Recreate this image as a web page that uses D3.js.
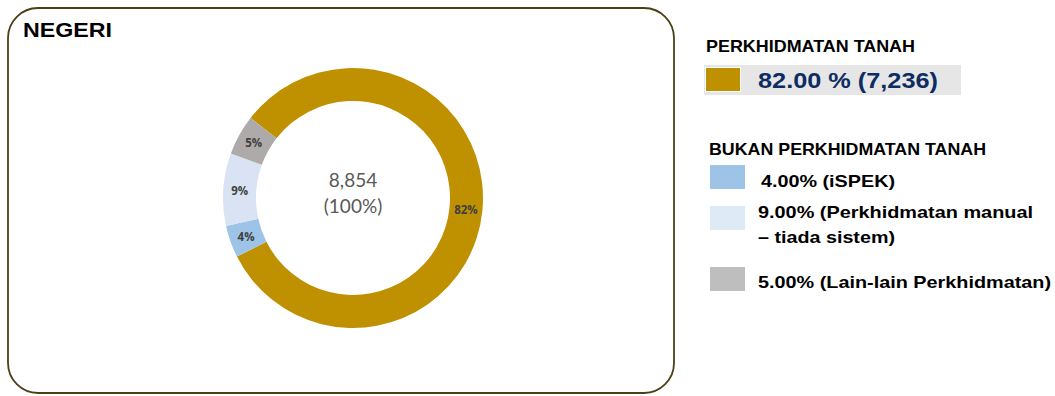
<!DOCTYPE html>
<html><head><meta charset="utf-8">
<script src="https://cdn.jsdelivr.net/npm/d3@7"></script>
<style>body{margin:0;background:#fff}svg{display:block}</style>
</head><body>
<svg id="c" width="1055" height="396"></svg>
<script>
const categories = ["Perkhidmatan Tanah", "iSPEK", "Perkhidmatan manual – tiada sistem", "Lain-lain Perkhidmatan"];
const values = [82, 4, 9, 5];
const sliceLabels = ["82%", "4%", "9%", "5%"];
const colors = ["#bf9000", "#9dc3e6", "#dae3f3", "#aeaaaa"];
const legendColors = ["#bf9000", "#9dc3e6", "#deeaf6", "#bebebe"];
const totalLabel = ["8,854", "(100%)"];
const legendTitle1 = "PERKHIDMATAN TANAH";
const legendMain = "82.00 % (7,236)";
const legendTitle2 = "BUKAN PERKHIDMATAN TANAH";
const legendItems = [["4.00% (iSPEK)"], ["9.00% (Perkhidmatan manual", "– tiada sistem)"], ["5.00% (Lain-lain Perkhidmatan)"]];

const svg = d3.select("#c");
const lf = "Liberation Sans, Arial, sans-serif";
function stretchText(x, y, t, size, width, fill) {
  return svg.append("text").attr("x", x).attr("y", y).text(t)
    .attr("font-family", lf).attr("font-weight", "bold").attr("font-size", size)
    .attr("fill", fill).attr("textLength", width).attr("lengthAdjust", "spacingAndGlyphs");
}

svg.append("rect").attr("x", 8).attr("y", 8).attr("width", 666).attr("height", 385)
  .attr("rx", 30).attr("ry", 30).attr("fill", "#fff").attr("stroke", "#4d3f14").attr("stroke-width", 1.8);
stretchText(23, 37, "NEGERI", 21, 89, "#000");

const cx = 353, cy = 198, rOut = 130, rIn = 97;
const pie = d3.pie().sort(null).value(d => d)
  .startAngle(-52 * Math.PI / 180).endAngle((360 - 52) * Math.PI / 180);
const arcs = pie(values);
const arc = d3.arc().innerRadius(rIn).outerRadius(rOut);
const g = svg.append("g").attr("transform", `translate(${cx},${cy})`);
g.selectAll("path").data(arcs).join("path").attr("d", arc).attr("fill", (d, i) => colors[i]);
g.selectAll("text.lbl").data(arcs).join("text").attr("class", "lbl")
  .attr("transform", d => `translate(${arc.centroid(d)})`)
  .attr("text-anchor", "middle").attr("dominant-baseline", "central")
  .attr("font-family", "Open Sans, Lato, sans-serif").attr("font-weight", "bold").attr("font-size", 11.5)
  .attr("fill", "#404040").text((d, i) => sliceLabels[i]);
g.append("text").attr("x", 0).attr("y", -11).attr("text-anchor", "middle")
  .attr("font-family", "Lato, Open Sans, sans-serif").attr("font-size", 19).attr("fill", "#595959").text(totalLabel[0]);
g.append("text").attr("x", 0).attr("y", 15).attr("text-anchor", "middle")
  .attr("font-family", "Lato, Open Sans, sans-serif").attr("font-size", 19).attr("fill", "#595959").text(totalLabel[1]);

stretchText(706, 52, legendTitle1, 16.5, 209, "#000");
svg.append("rect").attr("x", 704).attr("y", 65).attr("width", 257).attr("height", 30).attr("fill", "#e6e6e6");
svg.append("rect").attr("x", 705.5).attr("y", 67.5).attr("width", 35).attr("height", 24).attr("fill", legendColors[0]).attr("stroke", "#fff").attr("stroke-width", 1);
stretchText(758, 88, legendMain, 22, 180, "#0e2b63");
stretchText(709, 155, legendTitle2, 16.5, 277, "#000");

const sqY = [165, 206, 267];
const txY = [[187], [218, 243], [288]];
const txX = [761, 758, 758];
const txW = [[134], [275, 137], [293]];
legendItems.forEach((lines, i) => {
  svg.append("rect").attr("x", 710).attr("y", sqY[i]).attr("width", 35).attr("height", 24).attr("fill", legendColors[i + 1]);
  lines.forEach((t, j) => stretchText(txX[i], txY[i][j], t, 16.5, txW[i][j], "#000"));
});
</script>
</body></html>
